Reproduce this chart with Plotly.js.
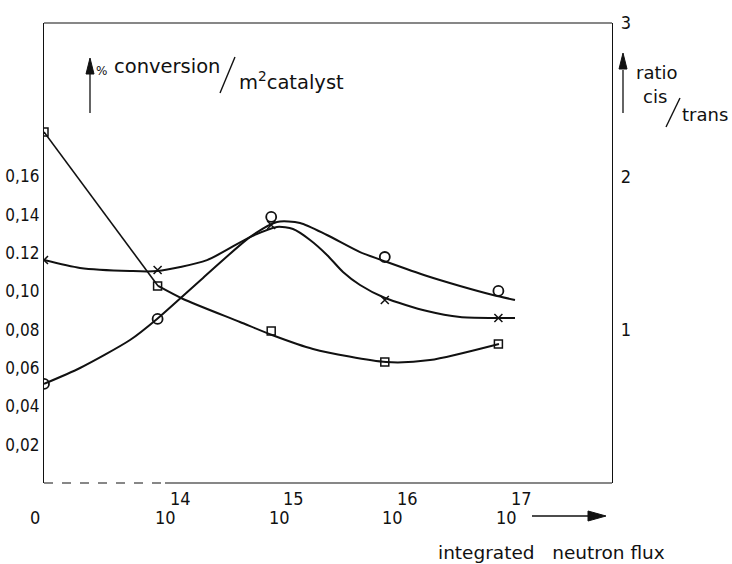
<!DOCTYPE html>
<html>
<head>
<meta charset="utf-8">
<script src="https://cdn.plot.ly/plotly-3.0.1.min.js"></script>
<style>html,body{margin:0;padding:0;background:#fff;}#chart{width:732px;height:564px;}</style>
</head>
<body>
<div id="chart"></div>
<script>
// ---- data (x: index of integrated neutron flux category) ----
const fluxIndex = [0, 1, 2, 3, 4];
const fluxBase = ["0", "10", "10", "10", "10"];
const fluxExp = ["", "14", "15", "16", "17"];

// % conversion / m2 catalyst (left axis)
const circleValues = [0.0517, 0.0856, 0.1388, 0.1179, 0.1002];
const crossValues = [0.1163, 0.1111, 0.1346, 0.0955, 0.0861];
// ratio cis/trans (right axis)
const squareValues = [2.289, 1.285, 0.991, 0.789, 0.907];

// drawn fitted curves
const circleCurveX = [0, 0.317, 0.757, 0.995, 1.40, 1.813, 2.051, 2.254, 2.491, 2.782, 3.019, 3.371, 3.662, 3.952, 4.146];
const circleCurveY = [0.0517, 0.0600, 0.0746, 0.0856, 0.1070, 0.1283, 0.1362, 0.1357, 0.1294, 0.1205, 0.1153, 0.1080, 0.1028, 0.0981, 0.0955];
const crossCurveX = [0, 0.317, 0.757, 0.995, 1.435, 1.813, 2.051, 2.192, 2.342, 2.491, 2.632, 2.782, 3.002, 3.371, 3.662, 3.952, 4.146];
const crossCurveY = [0.1163, 0.1122, 0.1106, 0.1106, 0.1163, 0.1283, 0.1336, 0.1325, 0.1268, 0.1190, 0.1101, 0.1033, 0.0965, 0.0897, 0.0866, 0.0861, 0.0861];
const squareLineX = [0, 1.004];
const squareLineY = [2.289, 1.285];
const squareCurveX = [1.004, 1.224, 1.725, 2.007, 2.368, 3.011, 3.398, 4.005];
const squareCurveY = [1.285, 1.200, 1.050, 0.965, 0.874, 0.789, 0.802, 0.907];

const leftTickVals = [0.02, 0.04, 0.06, 0.08, 0.10, 0.12, 0.14, 0.16];
const leftTickText = ["0,02", "0,04", "0,06", "0,08", "0,10", "0.12", "0,14", "0,16"];
const rightTickVals = [1, 2, 3];
const rightTickText = ["1", "2", "3"];

const INK = "#111";
const FONT = "'DejaVu Sans Condensed', 'DejaVu Sans', sans-serif";
const TFONT = "'DejaVu Sans', sans-serif";
const X_SPAN = 5;
const M = {l: 44, r: 120, t: 23, b: 81};
const W = 732, H = 564;
const PW = W - M.l - M.r, PH = H - M.t - M.b;
const px = v => (v - M.l) / PW;          // page pixel -> paper x
const py = v => (H - M.b - v) / PH;      // page pixel -> paper y

const curve = {color: INK, width: 2, shape: "spline", smoothing: 0.7};
const traces = [
  {x: circleCurveX, y: circleCurveY, mode: "lines", line: curve, hoverinfo: "skip"},
  {x: crossCurveX, y: crossCurveY, mode: "lines", line: curve, hoverinfo: "skip"},
  {x: squareLineX, y: squareLineY, yaxis: "y2", mode: "lines", line: {color: INK, width: 1.6}, hoverinfo: "skip"},
  {x: squareCurveX, y: squareCurveY, yaxis: "y2", mode: "lines", line: curve, hoverinfo: "skip"},
  {x: fluxIndex, y: circleValues, mode: "markers", marker: {symbol: "circle-open", size: 10, color: INK, line: {width: 1.8, color: INK}}},
  {x: fluxIndex, y: crossValues, mode: "markers", marker: {symbol: "x-thin-open", size: 8, color: INK, line: {width: 1.5, color: INK}}},
  {x: fluxIndex, y: squareValues, yaxis: "y2", mode: "markers", marker: {symbol: "square-open", size: 8, color: INK, line: {width: 1.5, color: INK}}}
];

function txt(x, y, text, size, family) {
  return {x: x, y: y, xref: "paper", yref: "paper", text: text, showarrow: false,
          xanchor: "center", yanchor: "middle", font: {family: family, size: size, color: INK}};
}

const annotations = [];
fluxIndex.forEach((xi, i) => {
  if (fluxExp[i] === "") {
    annotations.push(txt((xi - 0.08) / X_SPAN, -0.074, fluxBase[i], 18, FONT));
  } else {
    annotations.push(txt((xi + 0.07) / X_SPAN, -0.074, fluxBase[i], 18, FONT));
    annotations.push(txt((xi + 0.20) / X_SPAN, -0.033, fluxExp[i], 18, FONT));
  }
});
annotations.push(txt(px(551), py(552), "integrated\u00a0\u00a0\u00a0neutron\u00a0flux", 18.5, TFONT));
annotations.push(txt(px(101), py(71), "%", 12, TFONT));
annotations.push(txt(px(167), py(66), "conversion", 19.5, TFONT));
annotations.push(txt(px(291), py(81), "m<sup>2</sup>catalyst", 19.5, TFONT));
annotations.push(txt(px(657), py(72), "ratio", 18, TFONT));
annotations.push(txt(px(655), py(97), "cis", 18, TFONT));
annotations.push(txt(px(705), py(115), "trans", 18, TFONT));

function seg(x0, y0, x1, y1, extra) {
  return {type: "line", xref: "paper", yref: "paper", x0: px(x0), y0: py(y0), x1: px(x1), y1: py(y1),
          line: Object.assign({color: INK, width: 1.3}, extra || {})};
}
function tri(a, b, c) {
  const p = q => px(q[0]) + "," + py(q[1]);
  return {type: "path", xref: "paper", yref: "paper", path: "M" + p(a) + " L" + p(b) + " L" + p(c) + " Z",
          fillcolor: INK, line: {color: INK, width: 1}};
}

const shapes = [
  seg(44, 23, 612, 23, {width: 1.2}),
  seg(44, 483, 165, 483, {width: 1.2, dash: "dash"}),
  seg(165, 483, 612, 483, {width: 1.2}),
  // slashes in the axis titles
  seg(220, 93, 235, 57, {width: 1.4}),
  seg(666, 127, 680, 98, {width: 1.4}),
  // up arrows beside the axis titles
  seg(90, 113, 90, 72),
  tri([90, 58], [86, 74], [94, 74]),
  seg(623, 113, 623, 70),
  tri([623, 53], [619, 69], [627, 69]),
  // arrow after the x labels
  seg(532, 516, 592, 516),
  tri([606, 516], [588, 511], [588, 521])
];

const layout = {
  width: W, height: H,
  margin: {l: M.l, r: M.r, t: M.t, b: M.b, pad: 0},
  paper_bgcolor: "#fff", plot_bgcolor: "#fff",
  showlegend: false,
  xaxis: {range: [0, X_SPAN], showgrid: false, zeroline: false, showticklabels: false, showline: false, ticks: "", fixedrange: true},
  yaxis: {range: [0, 0.24], tickvals: leftTickVals, ticktext: leftTickText, showgrid: false, zeroline: false,
          showline: true, linecolor: INK, linewidth: 1.2, ticks: "", ticklabelstandoff: 0,
          tickfont: {family: FONT, size: 17, color: INK}},
  yaxis2: {range: [0, 3], overlaying: "y", side: "right", tickvals: rightTickVals, ticktext: rightTickText,
           showgrid: false, zeroline: false, showline: true, linecolor: INK, linewidth: 1.2, ticks: "",
           ticklabelstandoff: 4, tickfont: {family: FONT, size: 18, color: INK}},
  annotations: annotations,
  shapes: shapes
};

Plotly.newPlot("chart", traces, layout, {displayModeBar: false, staticPlot: true});
</script>
</body>
</html>
